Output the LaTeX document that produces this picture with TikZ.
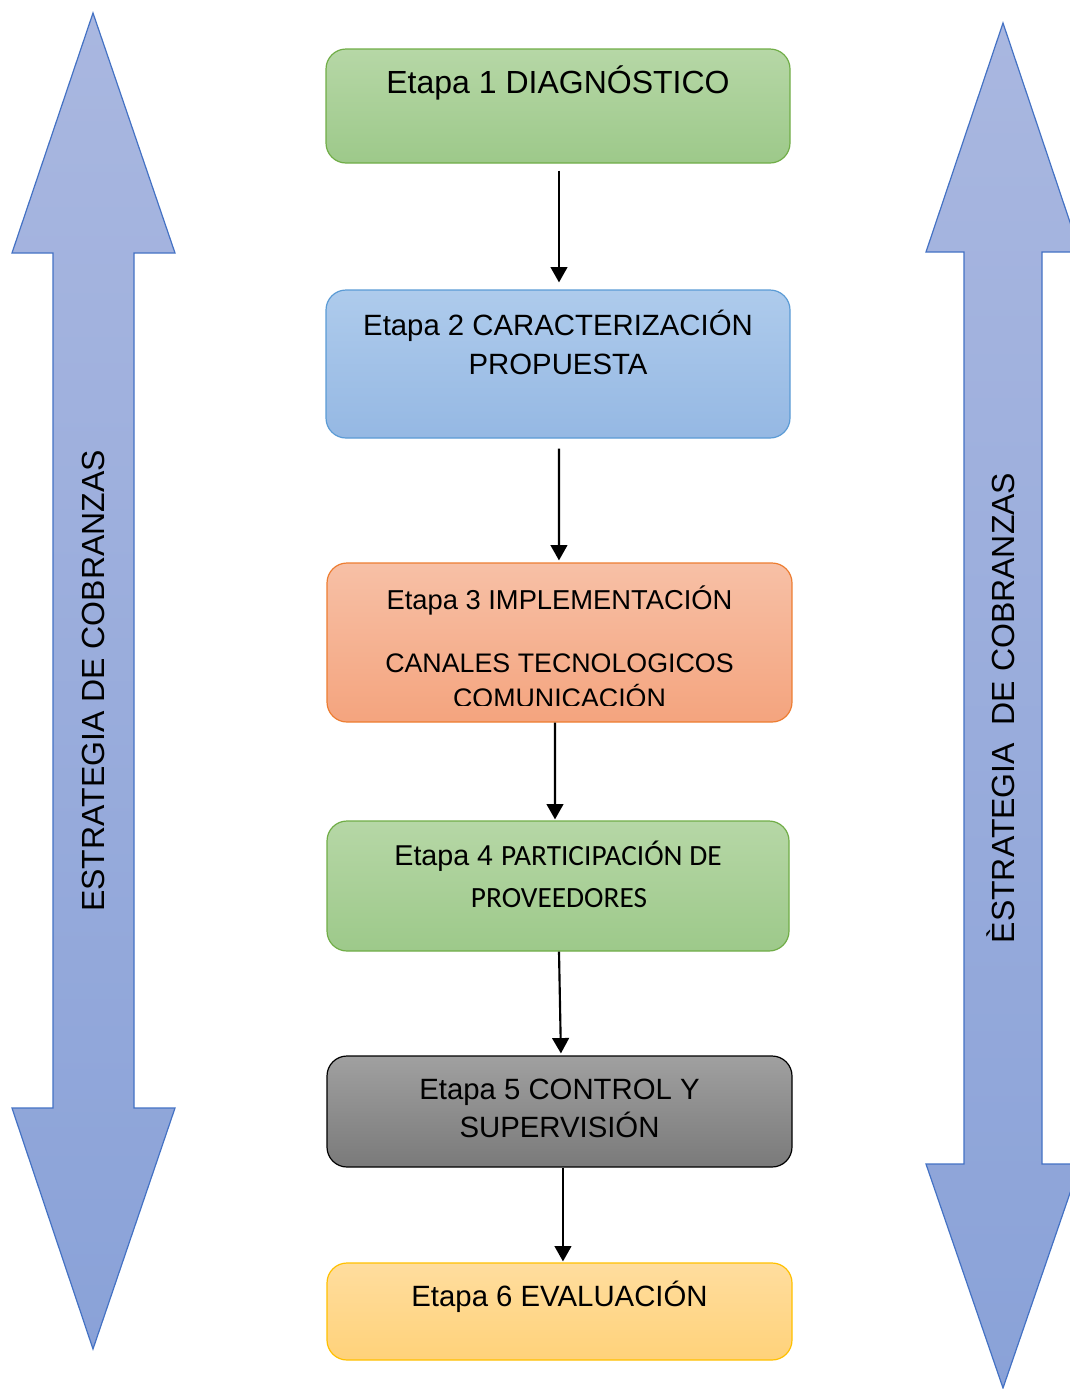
\documentclass[tikz,border=0pt]{standalone}
\usepackage{fontspec}
\setmainfont{Liberation Sans}
\newfontfamily\calibri{Carlito}
\usetikzlibrary{arrows.meta}
\definecolor{grT}{RGB}{182,215,166}
\definecolor{grB}{RGB}{157,201,138}
\definecolor{grL}{RGB}{112,173,71}
\definecolor{blT}{RGB}{174,203,236}
\definecolor{blB}{RGB}{149,184,227}
\definecolor{blL}{RGB}{91,155,213}
\definecolor{orT}{RGB}{247,192,166}
\definecolor{orB}{RGB}{244,164,126}
\definecolor{orL}{RGB}{237,125,49}
\definecolor{gyT}{RGB}{160,160,160}
\definecolor{gyB}{RGB}{122,122,122}
\definecolor{gdT}{RGB}{255,221,158}
\definecolor{gdB}{RGB}{255,210,122}
\definecolor{gdL}{RGB}{255,192,0}
\definecolor{arT}{RGB}{169,183,224}
\definecolor{arB}{RGB}{138,162,216}
\definecolor{arL}{RGB}{68,114,196}
\tikzset{
  stagebox/.style={draw, rounded corners=15pt, line width=0.9pt, inner sep=0pt, rectangle},
  conn/.style={line width=1.6pt, -{Triangle[length=11.5pt,width=12.5pt]}},
  txt/.style={anchor=base, inner sep=0pt, font=\fontsize{22}{26}\selectfont},
  bigarrow/.style={draw=arL, line width=0.9pt, top color=arT, bottom color=arB},
  vtxt/.style={rotate=90, anchor=base, inner sep=0pt, font=\fontsize{24}{28}\selectfont}
}
\begin{document}
\begin{tikzpicture}[x=0.75pt, y=-0.75pt]
\useasboundingbox (0,0) rectangle (1070,1389);
% side arrows
\path[bigarrow] (93,13) -- (175,253) -- (134,253) -- (134,1108) -- (175,1108) -- (93,1349) -- (12,1108) -- (53,1108) -- (53,253) -- (12,253) -- cycle;
\begin{scope}
\clip (0,0) rectangle (1070,1389);
\path[bigarrow] (1003,23) -- (1080,252) -- (1042,252) -- (1042,1164) -- (1080,1164) -- (1003,1388) -- (926,1164) -- (964,1164) -- (964,252) -- (926,252) -- cycle;
\end{scope}
\node[vtxt] (lt) at (104.5,681) {ESTRATEGIA DE COBRANZAS};
\node[vtxt] (rt) at (1014.5,708) {ÈSTRATEGIA\ \ DE COBRANZAS};
% stage boxes
\node[stagebox, draw=grL, top color=grT, bottom color=grB, minimum width=348pt, minimum height=85.5pt] (b1) at (558,106) {};
\node[stagebox, draw=blL, top color=blT, bottom color=blB, minimum width=348pt, minimum height=111pt] (b2) at (558,364) {};
\node[stagebox, draw=orL, top color=orT, bottom color=orB, minimum width=348.75pt, minimum height=119.25pt] (b3) at (559.5,642.5) {};
\node[stagebox, draw=grL, top color=grT, bottom color=grB, minimum width=346.5pt, minimum height=97.5pt] (b4) at (558,886) {};
\node[stagebox, draw=black, top color=gyT, bottom color=gyB, minimum width=348.75pt, minimum height=83.25pt] (b5) at (559.5,1111.5) {};
\node[stagebox, draw=gdL, top color=gdT, bottom color=gdB, minimum width=348.75pt, minimum height=72.75pt] (b6) at (559.5,1311.5) {};
% texts
\node[txt, font=\fontsize{24}{28}\selectfont] (t1) at (558,93) {Etapa 1 DIAGNÓSTICO};
\node[txt] (t2a) at (558,335) {Etapa 2 CARACTERIZACIÓN};
\node[txt] (t2b) at (558,374) {PROPUESTA};
\node[txt, font=\fontsize{20.5}{24}\selectfont] (t3a) at (559.5,609) {Etapa 3 IMPLEMENTACIÓN};
\node[txt, font=\fontsize{20.1}{24}\selectfont] (t3b) at (559.5,672) {CANALES TECNOLOGICOS};
\begin{scope}
\clip (330,680) rectangle (790,705);
\node[txt, font=\fontsize{20.1}{24}\selectfont] (t3c) at (559.5,707) {COMUNICACIÓN};
\end{scope}
\node[txt, font=\fontsize{21.5}{26}\selectfont] (t4a) at (558,865) {Etapa 4 {\calibri\fontsize{22}{26}\selectfont PARTICIPACIÓN DE}};
\node[txt, font=\calibri\fontsize{22}{26}\selectfont] (t4b) at (559,907) {PROVEEDORES};
\node[txt] (t5a) at (559.5,1099) {Etapa 5 CONTROL Y};
\node[txt] (t5b) at (559.5,1137) {SUPERVISIÓN};
\node[txt] (t6) at (559.5,1306) {Etapa 6 EVALUACIÓN};
% connectors
\draw[conn, shorten <=5.25pt, shorten >=5.25pt] ([xshift=0.75pt]b1.south) -- ([xshift=0.75pt]b2.north);
\draw[conn, shorten <=7.5pt, shorten >=1.5pt] ([xshift=0.75pt]b2.south) -- ([xshift=-0.4pt]b3.north);
\draw[conn, shorten >=0.75pt] ([xshift=-3.4pt]b3.south) -- ([xshift=-2.25pt]b4.north);
\draw[conn, shorten >=1.5pt] ([xshift=0.75pt]b4.south) -- ([xshift=1.1pt]b5.north);
\draw[conn, shorten >=0.75pt] ([xshift=2.6pt]b5.south) -- ([xshift=2.6pt]b6.north);
\end{tikzpicture}
\end{document}
